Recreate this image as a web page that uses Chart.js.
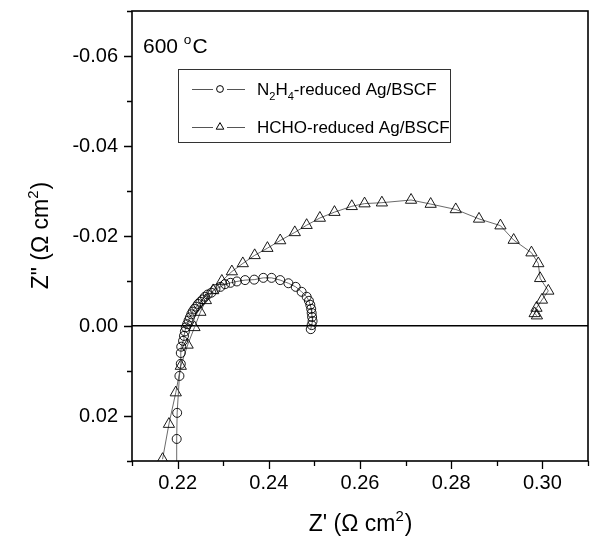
<!DOCTYPE html>
<html><head><meta charset="utf-8">
<script src="https://cdn.jsdelivr.net/npm/chart.js@4.4.0/dist/chart.umd.min.js"></script>
<style>html,body{margin:0;padding:0;background:#fff}#wrap{width:595px;height:541px}</style>
</head><body><div id="wrap"><canvas id="c" width="595" height="541"></canvas></div>
<script>
// ---- data (Z' real part, Z'' imaginary part, ohm cm^2) ----
const n2h4Re = [0.2197,0.2198,0.2199,0.2204,0.2207,0.2207,0.2208,0.2212,0.2214,0.2216,0.2218,0.2221,0.2224,0.2227,0.2230,0.2233,0.2237,0.2241,0.2245,0.2250,0.2255,0.2260,0.2266,0.2274,0.2283,0.2294,0.2304,0.2316,0.2330,0.2348,0.2368,0.2388,0.2406,0.2425,0.2443,0.2459,0.2472,0.2483,0.2488,0.2491,0.2493,0.2494,0.2495,0.2496,0.2494,0.2492];
const n2h4Im = [0.0360,0.0251,0.0193,0.0111,0.0084,0.0060,0.0046,0.0033,0.0022,0.0012,0.0003,-0.0004,-0.0012,-0.0019,-0.0026,-0.0032,-0.0038,-0.0043,-0.0049,-0.0054,-0.0059,-0.0065,-0.0070,-0.0074,-0.0082,-0.0087,-0.0093,-0.0096,-0.0099,-0.0102,-0.0103,-0.0107,-0.0107,-0.0102,-0.0095,-0.0087,-0.0076,-0.0065,-0.0056,-0.0047,-0.0038,-0.0029,-0.0020,-0.0011,-0.0002,0.0007];
const hchoRe = [0.2167,0.2181,0.2196,0.2207,0.2222,0.2237,0.2250,0.2262,0.2278,0.2297,0.2319,0.2343,0.2369,0.2397,0.2425,0.2457,0.2483,0.2512,0.2544,0.2582,0.2610,0.2648,0.2712,0.2755,0.2810,0.2861,0.2908,0.2937,0.2976,0.2991,0.2995,0.3013,0.2999,0.2987,0.2983,0.2988];
const hchoIm = [0.0296,0.0218,0.0148,0.0089,0.0042,0.0003,-0.0031,-0.0057,-0.0079,-0.0100,-0.0121,-0.0139,-0.0157,-0.0173,-0.0190,-0.0208,-0.0224,-0.0240,-0.0253,-0.0266,-0.0272,-0.0274,-0.0280,-0.0271,-0.0259,-0.0238,-0.0223,-0.0191,-0.0163,-0.0139,-0.0106,-0.0078,-0.0058,-0.0040,-0.0028,-0.0023];
const seriesLabels = [
  [{t:'N'},{t:'2',sub:true},{t:'H'},{t:'4',sub:true},{t:'-reduced Ag/BSCF'}],
  [{t:'HCHO-reduced Ag/BSCF'}]
];
const xRange = [0.21, 0.31];
const yRange = [-0.07, 0.03];
const xTitle = [{t:"Z' ("},{t:'\u03A9'},{t:' cm'},{t:'2',sup:true},{t:')'}];
const yTitle = [{t:'Z" ('},{t:'\u03A9'},{t:' cm'},{t:'2',sup:true},{t:')'}];
const tempLabel = [{t:'600 '},{t:'o',sup:true},{t:'C'}];

const FONT = '"Liberation Sans", Arial, sans-serif';
const toPts = (xs, ys) => xs.map((x, i) => ({x: x, y: ys[i]}));
const isMajor = v => Math.abs(Math.round(v * 100)) % 2 === 0;

function richWidth(ctx, parts, size) {
  let w = 0;
  for (const p of parts) {
    const s = (p.sub || p.sup) ? size * 0.65 : size;
    ctx.font = s + 'px ' + FONT;
    w += ctx.measureText(p.t).width;
  }
  return w;
}
function drawRich(ctx, parts, x, y, size) {
  let cx = x;
  ctx.textAlign = 'left';
  ctx.textBaseline = 'alphabetic';
  for (const p of parts) {
    const s = (p.sub || p.sup) ? size * 0.65 : size;
    ctx.font = s + 'px ' + FONT;
    let dy = 0;
    if (p.sub) dy = size * 0.28;
    if (p.sup) dy = -size * 0.42;
    ctx.fillText(p.t, cx, y + dy);
    cx += ctx.measureText(p.t).width + (p.sup ? 1 : 0);
  }
  return cx;
}

const framePlugin = {
  id: 'frame',
  afterDatasetsDraw(chart) {
    const ctx = chart.ctx, a = chart.chartArea;
    const xs = chart.scales.x, ys = chart.scales.y;
    ctx.save();
    ctx.strokeStyle = '#000';
    ctx.lineWidth = 1.6;
    ctx.strokeRect(a.left, a.top, a.right - a.left, a.bottom - a.top);
    ctx.lineWidth = 1.3;
    ctx.beginPath();
    xs.ticks.forEach(t => {
      const px = Math.round(xs.getPixelForValue(t.value)) + 0.5;
      const len = isMajor(t.value) ? 8 : 5;
      ctx.moveTo(px, a.bottom); ctx.lineTo(px, a.bottom + len);
    });
    ys.ticks.forEach(t => {
      const py = Math.round(ys.getPixelForValue(t.value)) + 0.5;
      const len = isMajor(t.value) ? 8 : 5;
      ctx.moveTo(a.left, py); ctx.lineTo(a.left - len, py);
    });
    ctx.stroke();

    ctx.fillStyle = '#000';
    // temperature label
    drawRich(ctx, tempLabel, a.left + 11, a.top + 42, 21);
    // axis titles
    const ws = 23;
    const wx = richWidth(ctx, xTitle, ws);
    drawRich(ctx, xTitle, (a.left + a.right) / 2 - wx / 2, 531, ws);
    const wy = richWidth(ctx, yTitle, ws);
    ctx.save();
    ctx.translate(48, (a.top + a.bottom) / 2);
    ctx.rotate(-Math.PI / 2);
    drawRich(ctx, yTitle, -wy / 2, 0, ws);
    ctx.restore();

    // legend
    const lx = 178, ly = 69, lw = 272, lh = 73;
    ctx.lineWidth = 1;
    ctx.strokeStyle = '#333';
    ctx.strokeRect(lx + 0.5, ly + 0.5, lw, lh);
    chart.data.datasets.forEach((ds, i) => {
      const cy = ly + 20 + i * 38;
      ctx.strokeStyle = '#555';
      ctx.lineWidth = 1;
      ctx.beginPath();
      ctx.moveTo(lx + 14, cy + 0.5); ctx.lineTo(lx + 67, cy + 0.5);
      ctx.stroke();
      ctx.fillStyle = '#fff';
      ctx.fillRect(lx + 35, cy - 5, 14, 10);
      ctx.strokeStyle = '#000';
      Chart.helpers.drawPoint(ctx, {pointStyle: ds.pointStyle, radius: i === 0 ? 3.4 : 4.4, rotation: 0, borderWidth: 0.9}, lx + 42, cy);
      ctx.fillStyle = '#000';
      drawRich(ctx, seriesLabels[i], lx + 79, cy + 6, 17);
    });
    ctx.restore();
  }
};

new Chart(document.getElementById('c'), {
  type: 'scatter',
  data: {
    datasets: [
      {label: 'N2H4-reduced Ag/BSCF', data: toPts(n2h4Re, n2h4Im), showLine: true, clip: 0,
       borderColor: '#444', borderWidth: 0.8, pointStyle: 'circle', pointRadius: 4.5,
       pointBorderColor: '#000', pointBackgroundColor: 'rgba(255,255,255,0)', pointBorderWidth: 0.9},
      {label: 'HCHO-reduced Ag/BSCF', data: toPts(hchoRe, hchoIm), showLine: true, clip: 0,
       borderColor: '#444', borderWidth: 0.8, pointStyle: 'triangle', pointRadius: 6.5,
       pointBorderColor: '#000', pointBackgroundColor: 'rgba(255,255,255,0)', pointBorderWidth: 0.9}
    ]
  },
  options: {
    responsive: false, animation: false, devicePixelRatio: 1,
    layout: {autoPadding: false, padding: {top: 11, right: 7, left: 0, bottom: 0}},
    plugins: {legend: {display: false}, tooltip: {enabled: false}},
    scales: {
      x: {
        type: 'linear', min: xRange[0], max: xRange[1],
        afterFit(s) { s.height = 80; s.paddingLeft = 0; s.paddingRight = 0; },
        grid: {display: false, drawTicks: false},
        border: {display: false},
        ticks: {stepSize: 0.01, autoSkip: false, maxRotation: 0, padding: 10, color: '#000',
          font: {family: FONT, size: 20},
          callback: v => isMajor(v) ? Number(v).toFixed(2) : ''}
      },
      y: {
        type: 'linear', reverse: true, min: yRange[0], max: yRange[1],
        afterFit(s) { s.width = 132; s.paddingTop = 0; s.paddingBottom = 0; },
        grid: {drawTicks: false, lineWidth: 1.6,
          color: c => (c.tick && Math.abs(c.tick.value) < 1e-6) ? '#000' : 'rgba(0,0,0,0)'},
        border: {display: false},
        ticks: {stepSize: 0.01, autoSkip: false, padding: 14, color: '#000',
          font: {family: FONT, size: 20},
          callback: v => isMajor(v) ? (Math.abs(v) < 1e-6 ? '0.00' : Number(v).toFixed(2)) : ''}
      }
    }
  },
  plugins: [framePlugin]
});
</script></body></html>
